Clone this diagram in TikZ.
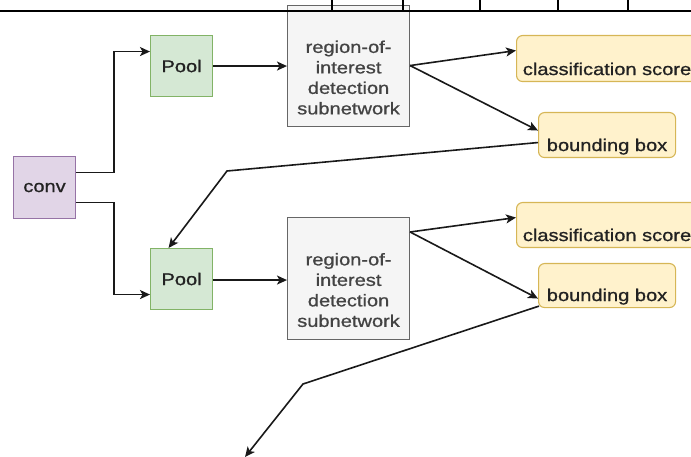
\documentclass[tikz,border=0pt]{standalone}
\usepackage{fontspec}
\setmainfont[FakeStretch=1.18, FakeBold=0.9]{Liberation Sans}
\usetikzlibrary{arrows.meta}
\definecolor{convfill}{HTML}{E1D5E7}
\definecolor{convdraw}{HTML}{9673A6}
\definecolor{poolfill}{HTML}{D5E8D4}
\definecolor{pooldraw}{HTML}{82B366}
\definecolor{roifill}{HTML}{F5F5F5}
\definecolor{roidraw}{HTML}{666666}
\definecolor{yfill}{HTML}{FFF2CC}
\definecolor{ydraw}{HTML}{D6B656}
\definecolor{txt}{HTML}{222222}
\begin{document}
\begin{tikzpicture}[x=1pt,y=-1pt,
  font=\fontsize{17}{20.5}\selectfont,
  every node/.style={text=txt},
  sqbox/.style={draw, line width=1.1pt, inner sep=0pt, anchor=north west},
  convbox/.style={sqbox, fill=convfill, draw=convdraw, minimum width=62pt, minimum height=62pt},
  poolbox/.style={sqbox, fill=poolfill, draw=pooldraw, minimum width=62pt, minimum height=61pt},
  roibox/.style={sqbox, fill=roifill, draw=roidraw, minimum width=122pt, minimum height=121pt},
  roitext/.style={align=center, inner sep=0pt, text=txt!85},
  ybox/.style={draw=ydraw, fill=yfill, line width=1.1pt, rounded corners=6pt, anchor=north west,
    inner xsep=0pt, inner ysep=2pt, text depth=4.5pt, text height=36.5pt},
  arr/.style={draw=black!90, line width=1.6pt, -{Stealth[length=10pt,width=9pt,inset=2.5pt]}},
  tabline/.style={draw=black, line width=1.2pt}
]
\useasboundingbox (0,0) rectangle (691,457);
\clip (0,0) rectangle (691,457);

% nodes
\node[convbox] (conv) at (13,156) {conv};
\node[poolbox] (pool1) at (150,35) {Pool};
\node[poolbox] (pool2) at (150,248) {Pool};
\node[roibox] (roi1) at (287,5) {};
\node[roitext] (roi1t) at ([yshift=-11.5pt]roi1.center) {region-of-\\interest\\detection\\subnetwork};
\node[roibox, minimum height=122pt] (roi2) at (287,217) {};
\node[roitext] (roi2t) at ([yshift=-11.5pt]roi2.center) {region-of-\\interest\\detection\\subnetwork};
\node[ybox, minimum width=181pt, text height=37.5pt] (cls1) at (516,35) {classification score};
\node[ybox, minimum width=137pt] (bb1) at (538,112) {bounding box};
\node[ybox, minimum width=181pt] (cls2) at (516,202) {classification score};
\node[ybox, minimum width=137pt, text height=35.5pt] (bb2) at (538,263) {bounding box};

\coordinate (b1) at (227,171);
\coordinate (b2) at (303,384);
\coordinate (e2) at (245,457);

% connectors
\draw[arr] ([yshift=15pt]conv.east) -- ++(38,0) |- ([yshift=14.5pt]pool1.west);
\draw[arr] ([yshift=-15pt]conv.east) -- ++(38,0) |- ([yshift=-15.5pt]pool2.west);
\draw[arr] (pool1.east) -- (roi1.west);
\draw[arr] ([yshift=-1pt]pool2.east) -- ([yshift=-1pt]pool2.east -| roi2.west);
\draw[arr] ([yshift=0.5pt]roi1.east) -- ([yshift=8pt]cls1.west);
\draw[arr] ([yshift=0.5pt]roi1.east) -- ([yshift=4.5pt]bb1.west);
\draw[arr] ([yshift=-15pt]roi2.north east) -- ([yshift=7.5pt]cls2.west);
\draw[arr] ([yshift=-15pt]roi2.north east) -- ([yshift=-13pt]bb2.west);
\draw[arr] ([yshift=-7.5pt]bb1.west) -- (b1) -- ([xshift=-13pt]pool2.north);
\draw[arr] ([xshift=1pt,yshift=2pt]bb2.south west) -- (b2) -- (e2);

% cut-off table at top
\draw[line width=2.2pt] (0,11) -- (691,11);
\foreach \x in {332,403,480,558,628} \draw[tabline] (\x,0) -- (\x,11);
\end{tikzpicture}
\end{document}
